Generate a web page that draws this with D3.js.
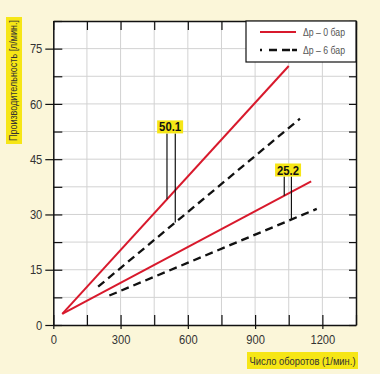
<!DOCTYPE html>
<html>
<head>
<meta charset="utf-8">
<script src="https://cdn.jsdelivr.net/npm/d3@7"></script>
<style>
  body { margin: 0; background: #fbf6d9; }
  svg { display: block; }
  text { font-family: "Liberation Sans", Arial, sans-serif; }
</style>
</head>
<body>
<div id="chart"></div>
<script>
// ---- data ----
const xTicks = [0, 300, 600, 900, 1200];
const yTicks = [0, 15, 30, 45, 60, 75];
const xMinor = [150, 450, 750, 1050, 1350];
const yMinor = [7.5, 22.5, 37.5, 52.5, 67.5, 82.5];

// rpm, flow (l/min)
const p0Upper = [[40, 3], [1050, 70.3]];
const p0Lower = [[40, 3], [1150, 39]];
const p6Upper = [[200, 10.4], [1100, 56]];
const p6Lower = [[250, 8], [1175, 31.5]];

const legendLabels = ["Δp – 0 бар", "Δp – 6 бар"];

const callouts = [
  { label: "50.1", xA: 507, xB: 544, lineA: p0Upper, lineB: p6Upper, top: 52, cx: 521 },
  { label: "25.2", xA: 1030, xB: 1062, lineA: p0Lower, lineB: p6Lower, top: 40.3, cx: 1047 }
];

const width = 380, height = 374;
const red = "#d8192c";
const yellow = "#f6e616";

const svg = d3.select("#chart").append("svg")
  .attr("width", width)
  .attr("height", height);

svg.append("rect").attr("width", width).attr("height", height).attr("fill", "#fbf6d9");

const x = d3.scaleLinear().domain([0, 1350]).range([53.3, 356]);
const y = d3.scaleLinear().domain([0, 82.5]).range([325, 21]);

// plot background
svg.append("rect")
  .attr("x", x(0)).attr("y", y(82.5))
  .attr("width", x(1350) - x(0)).attr("height", y(0) - y(82.5))
  .attr("fill", "#fff");

// grid
const grid = svg.append("g").attr("stroke", "#d2d2d2").attr("stroke-width", 1);
xTicks.concat(xMinor).filter(d => d > 0 && d < 1350).forEach(d => {
  grid.append("line").attr("x1", x(d)).attr("x2", x(d)).attr("y1", y(0)).attr("y2", y(82.5));
});
yTicks.concat(yMinor).filter(d => d > 0 && d < 82.5).forEach(d => {
  grid.append("line").attr("x1", x(0)).attr("x2", x(1350)).attr("y1", y(d)).attr("y2", y(d));
});

// ---- axes ----
const allX = xTicks.concat(xMinor);
const allY = yTicks.concat(yMinor);

function styleAxis(g) {
  g.selectAll("line").attr("stroke", "#111").attr("stroke-width", 1.2);
  g.select(".domain").attr("stroke", "#111").attr("stroke-width", 1.5);
  g.selectAll("text").attr("fill", "#333").style("font-size", "13px");
}

// inward ticks on all four sides
svg.append("g").attr("transform", `translate(0,${y(0)})`)
  .call(d3.axisBottom(x).tickValues(allX).tickSize(-10).tickSizeOuter(0).tickFormat(""))
  .call(styleAxis);
svg.append("g").attr("transform", `translate(0,${y(82.5)})`)
  .call(d3.axisTop(x).tickValues(allX).tickSize(-9).tickSizeOuter(0).tickFormat(""))
  .call(styleAxis);
svg.append("g").attr("transform", `translate(${x(0)},0)`)
  .call(d3.axisLeft(y).tickValues(allY).tickSize(-9).tickSizeOuter(0).tickFormat(""))
  .call(styleAxis);
svg.append("g").attr("transform", `translate(${x(1350)},0)`)
  .call(d3.axisRight(y).tickValues(allY).tickSize(-7).tickSizeOuter(0).tickFormat(""))
  .call(styleAxis);

// outward major ticks with labels
const xAxis = svg.append("g").attr("transform", `translate(0,${y(0)})`)
  .call(d3.axisBottom(x).tickValues(xTicks).tickSize(4).tickPadding(6).tickSizeOuter(0).tickFormat(d3.format("d")))
  .call(styleAxis);
xAxis.select(".domain").remove();

const yAxis = svg.append("g").attr("transform", `translate(${x(0)},0)`)
  .call(d3.axisLeft(y).tickValues(yTicks).tickSize(8).tickPadding(3).tickSizeOuter(0))
  .call(styleAxis);
yAxis.select(".domain").remove();

// narrow the tick labels a little, like the condensed face in the original
xAxis.selectAll("text").attr("textLength", d => String(d).length * 6.2).attr("lengthAdjust", "spacingAndGlyphs");
yAxis.selectAll("text").attr("textLength", d => String(d).length * 6.2).attr("lengthAdjust", "spacingAndGlyphs");

// ---- series ----
const line = d3.line().x(d => x(d[0])).y(d => y(d[1]));
[p0Upper, p0Lower].forEach(s => {
  svg.append("path").datum(s).attr("d", line)
    .attr("fill", "none").attr("stroke", red).attr("stroke-width", 2);
});
[p6Upper, p6Lower].forEach(s => {
  svg.append("path").datum(s).attr("d", line)
    .attr("fill", "none").attr("stroke", "#111").attr("stroke-width", 2.3)
    .attr("stroke-dasharray", "8,5");
});

// ---- callouts ----
function valueAt(s, rpm) {
  const t = (rpm - s[0][0]) / (s[1][0] - s[0][0]);
  return s[0][1] + t * (s[1][1] - s[0][1]);
}
callouts.forEach(c => {
  const g = svg.append("g");
  g.append("line")
    .attr("x1", x(c.xA)).attr("x2", x(c.xA))
    .attr("y1", y(c.top)).attr("y2", y(valueAt(c.lineA, c.xA)))
    .attr("stroke", "#111").attr("stroke-width", 1.2);
  g.append("line")
    .attr("x1", x(c.xB)).attr("x2", x(c.xB))
    .attr("y1", y(c.top)).attr("y2", y(valueAt(c.lineB, c.xB)))
    .attr("stroke", "#111").attr("stroke-width", 1.2);
  g.append("rect")
    .attr("x", x(c.cx) - 13).attr("y", y(c.top) - 13)
    .attr("width", 26).attr("height", 13)
    .attr("fill", yellow);
  g.append("text")
    .attr("x", x(c.cx) - 11).attr("y", y(c.top) - 2)
    .attr("textLength", 22).attr("lengthAdjust", "spacingAndGlyphs")
    .style("font-size", "12.5px").style("font-weight", "bold")
    .attr("fill", "#111")
    .text(c.label);
});

// ---- legend ----
const legend = svg.append("g");
legend.append("rect")
  .attr("x", 246).attr("y", y(82.5))
  .attr("width", x(1350) - 246).attr("height", 41)
  .attr("fill", "#fff").attr("stroke", "#111").attr("stroke-width", 1.2);
legend.append("line")
  .attr("x1", 260).attr("x2", 296).attr("y1", 32).attr("y2", 32)
  .attr("stroke", red).attr("stroke-width", 2);
legend.append("line")
  .attr("x1", 260).attr("x2", 297).attr("y1", 50).attr("y2", 50)
  .attr("stroke", "#111").attr("stroke-width", 2.3).attr("stroke-dasharray", "2,7,8,5,8");
legendLabels.forEach((t, i) => {
  legend.append("text")
    .attr("x", 303).attr("y", 36 + i * 18)
    .attr("textLength", 42).attr("lengthAdjust", "spacingAndGlyphs")
    .attr("fill", "#555").style("font-size", "11px")
    .text(t);
});

// ---- axis titles ----
const xt = svg.append("g");
xt.append("rect").attr("x", 247).attr("y", 352).attr("width", 111).attr("height", 17).attr("fill", yellow);
xt.append("text")
  .attr("x", 249.5).attr("y", 364.5)
  .attr("textLength", 106).attr("lengthAdjust", "spacingAndGlyphs")
  .attr("fill", "#333").style("font-size", "11.5px")
  .text("Число оборотов (1/мин.)");

const yt = svg.append("g").attr("transform", "translate(13,17) rotate(-90)");
yt.append("rect").attr("x", -127).attr("y", -7).attr("width", 127).attr("height", 16).attr("fill", yellow);
yt.append("text")
  .attr("x", -124).attr("y", 4)
  .attr("textLength", 121).attr("lengthAdjust", "spacingAndGlyphs")
  .attr("fill", "#333").style("font-size", "10px")
  .text("Производительность [л/мин.]");
</script>
</body>
</html>
